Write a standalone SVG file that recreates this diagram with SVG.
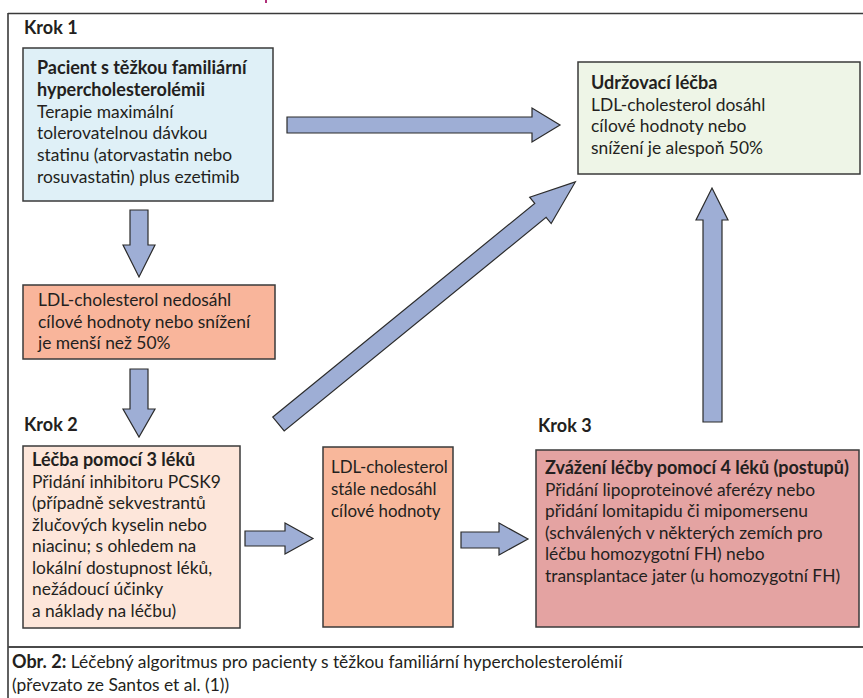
<svg xmlns="http://www.w3.org/2000/svg" width="863" height="698" viewBox="0 0 863 698">
<style>
text{font-family:Lato,"Liberation Sans",sans-serif;font-size:17.4px;fill:#231f20}
.b{font-weight:bold;font-size:18px}
.s{font-size:16.9px}
.box{stroke:#3a3a3a;stroke-width:1.5}
.arr{fill:#9eaed5;stroke:#2b2b2b;stroke-width:1.2;stroke-linejoin:miter}
.frame{stroke:#3a3a3a;stroke-width:1.6;fill:none}
</style>
<rect width="863" height="698" fill="#ffffff"/>
<rect x="265" y="0" width="2" height="3" fill="#b0307a"/>
<g id="frame">
<path class="frame" d="M8,13.5 H863 M8,13 V698"/>
<path d="M8,647 H863" stroke="#4a4a4a" stroke-width="2"/>
</g>
<g id="labels">
<text class="b" x="24" y="34">Krok 1</text>
<text class="b" x="24" y="431">Krok 2</text>
<text class="b" x="538" y="432">Krok 3</text>
</g>
<g id="node1">
<rect class="box" x="23" y="48" width="250" height="153" fill="#dff0f7"/>
<text x="37" y="74"><tspan class="b">Pacient s těžkou familiární</tspan><tspan class="b" x="37" dy="21.8">hypercholesterolémii</tspan><tspan x="37" dy="21.8">Terapie maximální</tspan><tspan x="37" dy="21.8">tolerovatelnou dávkou</tspan><tspan x="37" dy="21.8">statinu (atorvastatin nebo</tspan><tspan x="37" dy="21.8">rosuvastatin) plus ezetimib</tspan></text>
</g>
<g id="node2">
<rect class="box" x="23" y="285" width="252" height="74" fill="#f9b59b"/>
<text x="38" y="306">LDL-cholesterol nedosáhl<tspan x="38" dy="21.5">cílové hodnoty nebo snížení</tspan><tspan x="38" dy="21.5">je menší než 50%</tspan></text>
</g>
<g id="node3">
<rect class="box" x="23" y="446" width="217" height="182" fill="#fde6da"/>
<text x="32" y="466"><tspan class="b">Léčba pomocí 3 léků</tspan><tspan x="32" dy="21.5">Přidání inhibitoru PCSK9</tspan><tspan x="32" dy="21.5">(případně sekvestrantů</tspan><tspan x="32" dy="21.5">žlučových kyselin nebo</tspan><tspan x="32" dy="21.5">niacinu; s ohledem na</tspan><tspan x="32" dy="21.5">lokální dostupnost léků,</tspan><tspan x="32" dy="21.5">nežádoucí účinky</tspan><tspan x="32" dy="21.5">a náklady na léčbu)</tspan></text>
</g>
<g id="node4">
<rect class="box" x="578" y="62" width="282" height="112" fill="#eef5e7"/>
<text x="591" y="89"><tspan class="b">Udržovací léčba</tspan><tspan x="591" dy="21.7">LDL-cholesterol dosáhl</tspan><tspan x="591" dy="21.7">cílové hodnoty nebo</tspan><tspan x="591" dy="21.7">snížení je alespoň 50%</tspan></text>
</g>
<g id="node5">
<rect class="box" x="323" y="447" width="130" height="180" fill="#f8b79b"/>
<text class="s" x="331" y="473">LDL-cholesterol<tspan x="331" dy="22">stále nedosáhl</tspan><tspan x="331" dy="22">cílové hodnoty</tspan></text>
</g>
<g id="node6">
<rect class="box" x="536" y="450" width="323" height="177" fill="#e4a3a2"/>
<text x="545" y="474"><tspan class="b">Zvážení léčby pomocí 4 léků (postupů)</tspan><tspan x="545" dy="21.6">Přidání lipoproteinové aferézy nebo</tspan><tspan x="545" dy="21.6">přidání lomitapidu či mipomersenu</tspan><tspan x="545" dy="21.6">(schválených v některých zemích pro</tspan><tspan x="545" dy="21.6">léčbu homozygotní FH) nebo</tspan><tspan x="545" dy="21.6">transplantace jater (u homozygotní FH)</tspan></text>
</g>
<g id="connectors">
<polygon class="arr" points="130,210 148,210 148,245 155,245 139,277 123,245 130,245"/>
<polygon class="arr" points="130,369 148,369 148,409 155,409 139,437 123,409 130,409"/>
<polygon class="arr" points="287,117 532,117 532,108 560,125 532,142 532,133 287,133"/>
<polygon class="arr" points="703,422 703,220 696,220 712,188 728,220 722,220 722,422"/>
<polygon class="arr" points="245,531 285,531 285,523 313,538.5 285,554 285,546 245,546"/>
<polygon class="arr" points="461,532 499,532 499,523 528,539 499,555 499,548 461,548"/>
<polygon class="arr" transform="translate(278.5,424) rotate(-39.2)" points="0,-9 338,-9 338,-17 383,0 338,17 338,9 0,9"/>
</g>
<g id="caption">
<text x="12" y="668"><tspan class="b">Obr. 2:</tspan> Léčebný algoritmus pro pacienty s těžkou familiární hypercholesterolémií</text>
<text x="12" y="691">(převzato ze Santos et al. (1))</text>
</g>
</svg>
